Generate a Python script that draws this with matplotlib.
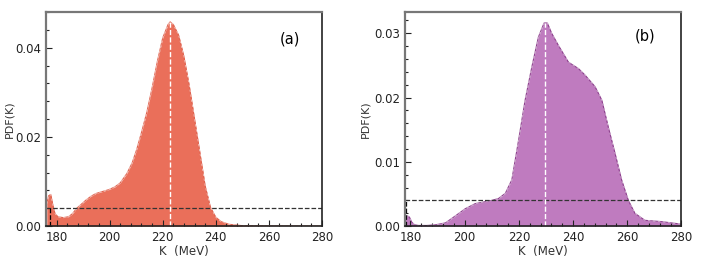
import matplotlib.pyplot as plt
from matplotlib.ticker import AutoMinorLocator, MultipleLocator

# panel (a)
k_a = [176.3, 177.0, 177.8, 178.5, 179.4, 180.5, 182.5, 184.5, 186.0, 187.6, 189.5, 191.0,
       193.0, 194.8, 197.0, 199.8, 202.0, 204.0, 206.5, 208.5, 210.2, 212.0, 214.0, 216.0,
       218.0, 220.0, 222.0, 222.8, 224.0, 226.0, 228.0, 230.0, 232.0, 234.0, 236.0, 238.0,
       240.0, 242.0, 245.0, 250.0, 260.0, 280.0]
pdf_a = [0.0050, 0.0068, 0.0071, 0.0050, 0.0028, 0.0021, 0.0019, 0.0021, 0.0028, 0.0040,
         0.0050, 0.0058, 0.0067, 0.0073, 0.0077, 0.0082, 0.0088, 0.0097, 0.0118, 0.0142,
         0.0172, 0.0210, 0.0255, 0.0310, 0.0370, 0.0422, 0.0452, 0.0458, 0.0452, 0.0428,
         0.0380, 0.0315, 0.0240, 0.0165, 0.0090, 0.0042, 0.0020, 0.0010, 0.0004, 0.0001,
         0.00003, 0.0]

# panel (b)
k_b = [177.9, 178.8, 179.6, 180.5, 181.5, 183.0, 186.0, 189.2, 192.9, 196.6, 200.2, 203.9,
       207.6, 210.0, 212.5, 215.0, 217.4, 219.9, 222.3, 224.8, 227.2, 229.3, 230.5, 232.1,
       234.6, 238.3, 242.0, 244.4, 248.1, 250.6, 253.0, 255.5, 257.9, 260.4, 262.8, 266.5,
       272.6, 280.0]
pdf_b = [0.0008, 0.0016, 0.0014, 0.0006, 0.0002, 0.0001, 0.0001, 0.0002, 0.0005, 0.0016,
         0.0027, 0.0035, 0.0038, 0.0040, 0.0043, 0.0051, 0.0072, 0.0134, 0.0196, 0.0248,
         0.0294, 0.0316, 0.0316, 0.0300, 0.0281, 0.0255, 0.0245, 0.0235, 0.0217, 0.0196,
         0.0154, 0.0113, 0.0072, 0.0040, 0.0020, 0.0009, 0.0007, 0.0003]

panels = [
    dict(k=k_a, pdf=pdf_a, color='#ea6f5a', edge='#e0634f', xlim=(176.0, 280), ylim=(0, 0.048),
         ymajor=0.02, peak=222.8, level=0.0041, xleft=177.4, tag='(a)', tagpos=(0.885, 0.875),
         rect=[0.0653, 0.137, 0.392, 0.817], ylabx=-0.115),
    dict(k=k_b, pdf=pdf_b, color='#bf7bbf', edge='#8e3f8e', xlim=(177.9, 280), ylim=(0, 0.0333),
         ymajor=0.01, peak=229.8, level=0.0041, xleft=178.4, tag='(b)', tagpos=(0.87, 0.89),
         rect=[0.575, 0.137, 0.393, 0.817], ylabx=-0.125),
]

fig = plt.figure(figsize=(7.04, 2.62), dpi=100)

for p in panels:
    ax = fig.add_axes(p['rect'])
    ax.fill_between(p['k'], p['pdf'], 0, color=p['color'], lw=0)
    ax.plot(p['k'], p['pdf'], color=p['edge'], lw=0.8)
    ax.plot(p['k'], p['pdf'], color='white', lw=0.6, ls=(0, (3, 3)), alpha=0.6)

    # credible interval guides
    ax.axhline(p['level'], color='#333333', ls='--', lw=0.9)
    ax.plot([p['xleft'], p['xleft']], [0, p['level']], color='black', ls='--', lw=0.9)
    peak_val = max(p['pdf'])
    ax.plot([p['peak'], p['peak']], [0, peak_val], color='white', ls='--', lw=1.0)

    ax.set_xlim(*p['xlim'])
    ax.set_ylim(*p['ylim'])
    ax.xaxis.set_major_locator(MultipleLocator(20))
    ax.yaxis.set_major_locator(MultipleLocator(p['ymajor']))
    ax.xaxis.set_minor_locator(AutoMinorLocator(5))
    ax.yaxis.set_minor_locator(AutoMinorLocator(5))
    ax.yaxis.set_major_formatter(plt.FormatStrFormatter('%.2f'))
    ax.tick_params(which='both', direction='in', top=False, right=False,
                   labelsize=8.5, colors='#222222')
    ax.tick_params(which='major', length=4, width=0.8)
    ax.tick_params(which='minor', length=2.5, width=0.8)
    for side in ['top', 'left']:
        ax.spines[side].set_color('#777777')
        ax.spines[side].set_linewidth(1.6)
    for side in ['bottom', 'right']:
        ax.spines[side].set_color('#222222')
        ax.spines[side].set_linewidth(1.2)

    ax.set_xlabel('K  (MeV)', fontsize=8.5, color='#333333', labelpad=1)
    ax.set_ylabel('PDF(K)', fontsize=8, color='#333333')
    ax.yaxis.set_label_coords(p['ylabx'], 0.5)
    ax.text(p['tagpos'][0], p['tagpos'][1], p['tag'], transform=ax.transAxes,
            fontsize=10.5, ha='center', va='center')

fig.savefig('out.png', dpi=100)
